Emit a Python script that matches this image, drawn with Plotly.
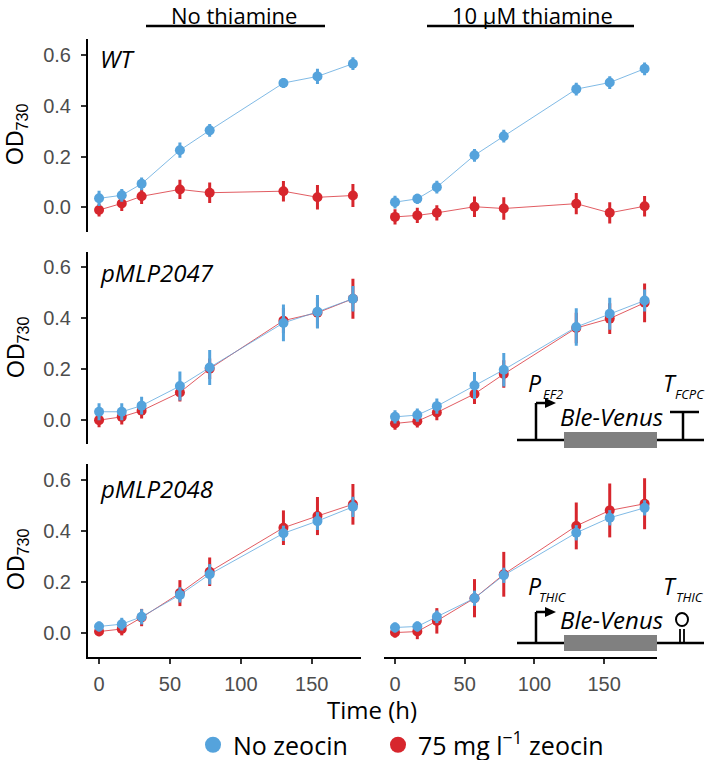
import plotly.graph_objects as go
from plotly.subplots import make_subplots

# ---- data ----------------------------------------------------------------
time_h = [0, 16, 30, 57, 78, 130, 154, 179]

strains = ["WT", "pMLP2047", "pMLP2048"]
conditions = ["No thiamine", "10 µM thiamine"]
series_names = ["No zeocin", "75 mg l<sup>−1</sup> zeocin"]

# WT
wt_none_ctrl = [0.036, 0.048, 0.093, 0.225, 0.303, 0.489, 0.515, 0.565]
wt_none_ctrl_sd = [0.030, 0.025, 0.025, 0.030, 0.025, 0.020, 0.030, 0.025]
wt_none_zeo = [-0.010, 0.016, 0.044, 0.071, 0.058, 0.064, 0.040, 0.047]
wt_none_zeo_sd = [0.025, 0.030, 0.030, 0.038, 0.040, 0.040, 0.048, 0.045]
wt_thi_ctrl = [0.021, 0.034, 0.080, 0.205, 0.280, 0.465, 0.491, 0.545]
wt_thi_ctrl_sd = [0.025, 0.020, 0.025, 0.025, 0.025, 0.025, 0.025, 0.025]
wt_thi_zeo = [-0.037, -0.031, -0.021, 0.003, -0.004, 0.015, -0.021, 0.005]
wt_thi_zeo_sd = [0.030, 0.030, 0.030, 0.040, 0.044, 0.042, 0.042, 0.040]

# pMLP2047
p47_none_ctrl = [0.033, 0.033, 0.057, 0.134, 0.207, 0.382, 0.426, 0.477]
p47_none_ctrl_sd = [0.033, 0.033, 0.035, 0.057, 0.069, 0.072, 0.066, 0.050]
p47_none_zeo = [0.000, 0.013, 0.037, 0.109, 0.202, 0.391, 0.422, 0.477]
p47_none_zeo_sd = [0.028, 0.030, 0.030, 0.036, 0.040, 0.050, 0.060, 0.079]
p47_thi_ctrl = [0.013, 0.020, 0.055, 0.136, 0.198, 0.366, 0.418, 0.470]
p47_thi_ctrl_sd = [0.026, 0.026, 0.030, 0.053, 0.066, 0.074, 0.063, 0.043]
p47_thi_zeo = [-0.013, -0.004, 0.030, 0.103, 0.181, 0.362, 0.399, 0.461]
p47_thi_zeo_sd = [0.025, 0.025, 0.030, 0.040, 0.054, 0.060, 0.060, 0.076]

# pMLP2048
p48_none_ctrl = [0.025, 0.034, 0.063, 0.149, 0.230, 0.391, 0.439, 0.495]
p48_none_ctrl_sd = [0.020, 0.025, 0.030, 0.030, 0.040, 0.030, 0.035, 0.040]
p48_none_zeo = [0.005, 0.015, 0.060, 0.156, 0.240, 0.413, 0.459, 0.505]
p48_none_zeo_sd = [0.018, 0.025, 0.034, 0.051, 0.056, 0.068, 0.075, 0.080]
p48_thi_ctrl = [0.021, 0.025, 0.063, 0.136, 0.226, 0.393, 0.452, 0.491]
p48_thi_ctrl_sd = [0.020, 0.020, 0.025, 0.030, 0.030, 0.030, 0.030, 0.030]
p48_thi_zeo = [0.001, 0.005, 0.047, 0.136, 0.230, 0.420, 0.481, 0.507]
p48_thi_zeo_sd = [0.020, 0.030, 0.050, 0.075, 0.088, 0.092, 0.106, 0.100]

x_ticks = [0, 50, 100, 150]
y_ticks = [0.0, 0.2, 0.4, 0.6]
y_ticktext = ["0.0", "0.2", "0.4", "0.6"]

panels = [
    # (row, col, ctrl, ctrl_sd, zeo, zeo_sd)
    (1, 1, wt_none_ctrl, wt_none_ctrl_sd, wt_none_zeo, wt_none_zeo_sd),
    (1, 2, wt_thi_ctrl, wt_thi_ctrl_sd, wt_thi_zeo, wt_thi_zeo_sd),
    (2, 1, p47_none_ctrl, p47_none_ctrl_sd, p47_none_zeo, p47_none_zeo_sd),
    (2, 2, p47_thi_ctrl, p47_thi_ctrl_sd, p47_thi_zeo, p47_thi_zeo_sd),
    (3, 1, p48_none_ctrl, p48_none_ctrl_sd, p48_none_zeo, p48_none_zeo_sd),
    (3, 2, p48_thi_ctrl, p48_thi_ctrl_sd, p48_thi_zeo, p48_thi_zeo_sd),
]

BLUE = "#55A3DC"
BLUE_LINE = "rgba(85,163,220,0.75)"
RED = "#D7262D"
RED_LINE = "rgba(215,38,45,0.75)"
FONT = "Open Sans"
TICK_FONT = "Liberation Sans"

# ---- page geometry (pixels) ----------------------------------------------
W, H = 709, 760
ML, MR, MT, MB = 88, 52, 39, 103
PW, PH = W - ML - MR, H - MT - MB


def px(x):
    return (x - ML) / PW


def py(y):
    return 1 - (y - MT) / PH


def note(text, x, y, size, family=FONT, **kw):
    return dict(
        text=text, x=px(x), y=py(y), xref="paper", yref="paper",
        xanchor=kw.pop("xanchor", "center"), yanchor="middle",
        showarrow=False, font=dict(family=family, size=size, color="black"), **kw,
    )


fig = make_subplots(
    rows=3, cols=2,
    horizontal_spacing=23 / PW,
    vertical_spacing=20 / PH,
)

for row, col, ctrl, ctrl_sd, zeo, zeo_sd in panels:
    fig.add_trace(go.Scatter(
        x=time_h, y=zeo, mode="lines+markers",
        line=dict(color=RED_LINE, width=1),
        marker=dict(size=10, color=RED),
        error_y=dict(type="data", array=zeo_sd, color=RED, thickness=3, width=0),
        showlegend=False, hoverinfo="x+y",
    ), row=row, col=col)
    fig.add_trace(go.Scatter(
        x=time_h, y=ctrl, mode="lines+markers",
        line=dict(color=BLUE_LINE, width=1),
        marker=dict(size=10, color=BLUE),
        error_y=dict(type="data", array=ctrl_sd, color=BLUE, thickness=3, width=0),
        showlegend=False, hoverinfo="x+y",
    ), row=row, col=col)

# legend-only traces, one legend box each so the spacing can be set
for name, colour, leg in zip(series_names, [BLUE, RED], ["legend", "legend2"]):
    fig.add_trace(go.Scatter(
        x=[None], y=[None], mode="markers", name=name, legend=leg,
        marker=dict(size=17, color=colour),
    ), row=1, col=1)

x_ranges = {1: [-7.8, 184.7], 2: [-7.9, 187.9]}
for row in (1, 2, 3):
    for col in (1, 2):
        bottom = row == 3
        fig.update_xaxes(
            range=x_ranges[col], showgrid=False, zeroline=False,
            showline=bottom, linecolor="black", linewidth=2,
            ticks="outside" if bottom else "", ticklen=5, tickwidth=2,
            tickcolor="#333333",
            tickvals=x_ticks, showticklabels=bottom,
            tickfont=dict(family=TICK_FONT, size=20, color="#4D4D4D"),
            ticklabelstandoff=3, automargin=False,
            row=row, col=col,
        )
        left = col == 1
        fig.update_yaxes(
            range=[-0.095, 0.662], showgrid=False, zeroline=False,
            showline=left, linecolor="black", linewidth=2,
            ticks="outside" if left else "", ticklen=5, tickwidth=2,
            tickcolor="#333333",
            tickvals=y_ticks, ticktext=y_ticktext, showticklabels=left,
            tickfont=dict(family=TICK_FONT, size=20, color="#4D4D4D"),
            ticklabelstandoff=6, automargin=False,
            row=row, col=col,
        )

annotations = []
shapes = []

# facet headers with underline
for text, cx, x0, x1 in [(conditions[0], 234, 146, 325), (conditions[1], 532, 427, 634)]:
    annotations.append(note(text, cx, 15, 22))
    shapes.append(dict(
        type="line", xref="paper", yref="paper",
        x0=px(x0), x1=px(x1), y0=py(26), y1=py(26),
        line=dict(color="black", width=2.5),
    ))

# strain labels and y titles
row_centres = [135, 348, 560]
label_y = [58, 272, 488]
for name, yc, yl in zip(strains, row_centres, label_y):
    annotations.append(note(f"<i>{name}</i>", 98, yl, 24, xanchor="left"))
    annotations.append(note("OD<sub>730</sub>", 17, yc, 23, family=TICK_FONT, textangle=-90))

annotations.append(note("Time (h)", 372, 709, 24))


# gene construct diagrams
def construct(base_y, top_y, prom_sub, term_sub, hairpin):
    line = dict(color="black", width=2.5)
    shapes.append(dict(type="line", xref="paper", yref="paper",
                       x0=px(517), x1=px(704), y0=py(base_y), y1=py(base_y), line=line))
    shapes.append(dict(type="rect", xref="paper", yref="paper",
                       x0=px(564), x1=px(657), y0=py(base_y - 8), y1=py(base_y + 8),
                       fillcolor="#808080", line=dict(width=0)))
    # promoter arrow
    shapes.append(dict(type="line", xref="paper", yref="paper",
                       x0=px(536), x1=px(536), y0=py(base_y), y1=py(top_y), line=line))
    shapes.append(dict(type="line", xref="paper", yref="paper",
                       x0=px(536), x1=px(547), y0=py(top_y), y1=py(top_y), line=line))
    shapes.append(dict(
        type="path", xref="paper", yref="paper",
        path=f"M {px(545)},{py(top_y - 5)} L {px(556)},{py(top_y)} L {px(545)},{py(top_y + 5)} Z",
        fillcolor="black", line=dict(width=0),
    ))
    if hairpin:
        for sx in (680, 684):
            shapes.append(dict(type="line", xref="paper", yref="paper",
                               x0=px(sx), x1=px(sx), y0=py(base_y), y1=py(base_y - 14),
                               line=dict(color="black", width=1.8)))
        shapes.append(dict(type="circle", xref="paper", yref="paper",
                           x0=px(676), x1=px(688), y0=py(base_y - 30), y1=py(base_y - 17),
                           line=dict(color="black", width=2)))
    else:
        shapes.append(dict(type="line", xref="paper", yref="paper",
                           x0=px(683), x1=px(683), y0=py(base_y), y1=py(base_y - 28), line=line))
        shapes.append(dict(type="line", xref="paper", yref="paper",
                           x0=px(670), x1=px(699), y0=py(base_y - 28), y1=py(base_y - 28), line=line))
    lab_y = base_y - 57
    for txt, x, y, size in [
        ("P", 535, lab_y, 23), (prom_sub, 553, lab_y + 11, 13),
        ("T", 670, lab_y, 23), (term_sub, 690, lab_y + 11, 13),
        ("Ble-Venus", 611, base_y - 24, 24),
    ]:
        annotations.append(note(f"<i>{txt}</i>", x, y, size))


construct(440, 403, "EF2", "FCPC", hairpin=False)
construct(643, 612, "THIC", "THIC", hairpin=True)

legend_style = dict(
    orientation="h", xanchor="left", y=py(745), yanchor="middle",
    font=dict(family=FONT, size=25, color="black"),
    itemsizing="trace", bgcolor="rgba(0,0,0,0)",
)

fig.update_layout(
    width=W, height=H,
    margin=dict(l=ML, r=MR, t=MT, b=MB, autoexpand=False),
    paper_bgcolor="white", plot_bgcolor="white",
    annotations=annotations, shapes=shapes,
    legend=dict(x=px(193), **legend_style),
    legend2=dict(x=px(378), **legend_style),
)

fig.write_html(
    "out.html",
    config={"displayModeBar": False},
    post_script="document.body.style.margin = '0';",
)
